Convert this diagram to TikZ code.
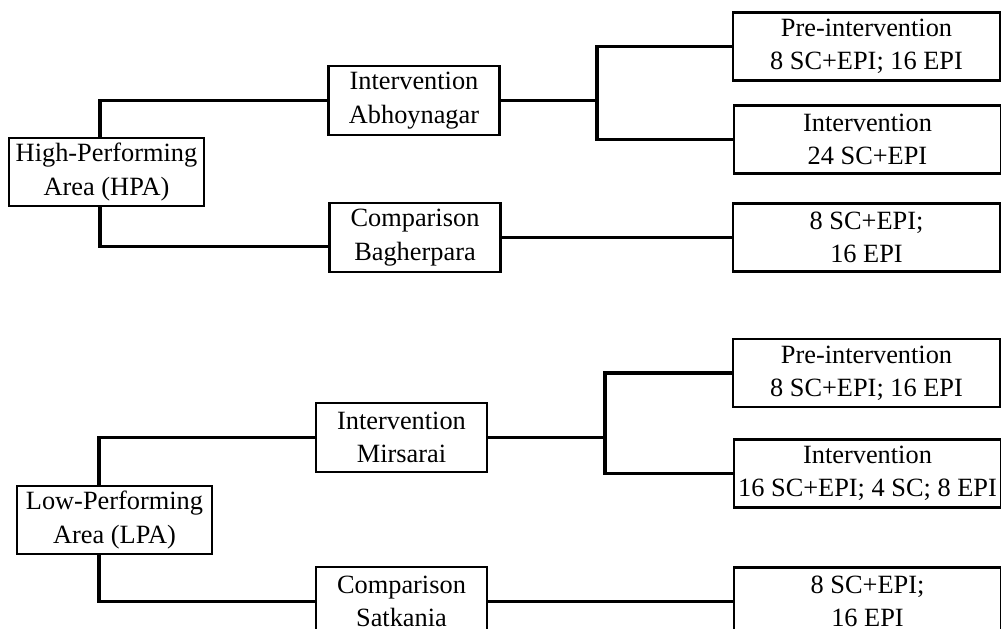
\documentclass[tikz,border=0pt]{standalone}
\usepackage{fontspec}
\setmainfont{Liberation Serif}
\usepackage{tikz}
\usetikzlibrary{calc}

\begin{document}
\begin{tikzpicture}[x=0.02cm, y=-0.02cm]
\fontsize{15}{19}\selectfont
\tikzset{areabox/.style={rectangle, draw=black, line width=1.3pt, fill=white,
  minimum width=3.9cm, minimum height=1.36cm, align=center, inner xsep=1pt, inner ysep=2pt},
 armbox/.style={areabox, minimum width=3.42cm, minimum height=1.38cm},
 samplebox/.style={areabox, minimum width=5.34cm, minimum height=1.36cm},
 link/.style={draw=black, line width=1.8pt}}
\useasboundingbox (0,0) rectangle (1001,629);

% high-performing area
\node[areabox] (hpa) at (106.5,172) {High-Performing\\Area (HPA)};
\node[armbox] (abhoy) at (414,100.5) {Intervention\\Abhoynagar};
\node[armbox] (bagher) at (415,237.5) {Comparison\\Bagherpara};
\node[samplebox] (preH) at (866.5,46.5) {Pre-intervention\\8 SC+EPI; 16 EPI};
\node[samplebox] (intH) at (867.5,139.5) {Intervention\\24 SC+EPI};
\node[samplebox] (compH) at (866.5,237.5) {8 SC+EPI;\\16 EPI};

% low-performing area
\node[areabox] (lpa) at (114.5,520) {Low-Performing\\Area (LPA)};
\node[armbox] (mirs) at (401.5,437.5) {Intervention\\Mirsarai};
\node[armbox] (satk) at (401.5,601.5) {Comparison\\Satkania};
\node[samplebox] (preL) at (866.5,373) {Pre-intervention\\8 SC+EPI; 16 EPI};
\node[samplebox] (intL) at (867.5,473.5) {Intervention\\16 SC+EPI; 4 SC; 8 EPI};
\node[samplebox] (compL) at (867.5,601.5) {8 SC+EPI;\\16 EPI};

\coordinate (forkH) at (597,98);
\coordinate (forkL) at (605,433);

\draw[link] ([xshift=-0.13cm]hpa.north) |- (abhoy.west);
\draw[link] ([xshift=-0.13cm]hpa.south) |- ([yshift=-0.18cm]bagher.west);
\draw[link] (abhoy.east) -- (abhoy.east -| forkH);
\draw[link] (preH.west) -- (forkH |- preH.west) -- (forkH |- intH.west) -- (intH.west);
\draw[link] (bagher.east) -- (compH.west);

\draw[link] ([xshift=-0.31cm]lpa.north) |- (mirs.west);
\draw[link] ([xshift=-0.31cm]lpa.south) |- (satk.west);
\draw[link] (mirs.east) -- (mirs.east -| forkL);
\draw[link] (preL.west) -- (forkL |- preL.west) -- (forkL |- intL.west) -- (intL.west);
\draw[link] (satk.east) -- (compL.west);
\end{tikzpicture}
\end{document}
